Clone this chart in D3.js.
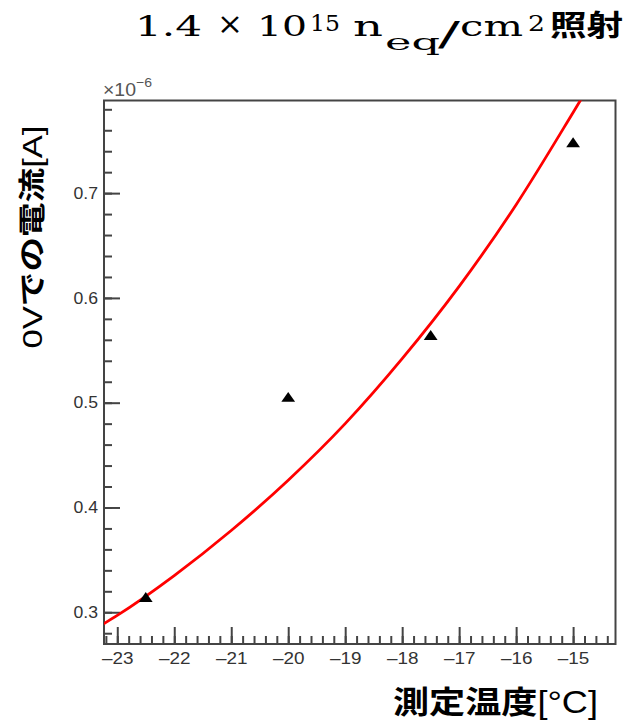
<!DOCTYPE html>
<html>
<head>
<meta charset="utf-8">
<script src="https://cdn.jsdelivr.net/npm/d3@7"></script>
<style>
  body { margin: 0; background: #fff; }
  svg { display: block; }
</style>
</head>
<body>
<div id="chart"></div>
<script>
// measured points (temperature in C, current at 0V in A)
const temps = [-22.5, -20, -17.5, -15];
const currents = [0.313e-6, 0.504e-6, 0.563e-6, 0.747e-6];

// red fit line
const fitTemps = [-23.3, -23, -22, -21, -20, -19, -18, -17, -16, -15, -14.8];
const fitCurrents = [0.287e-6, 0.297e-6, 0.335e-6, 0.378e-6, 0.426e-6, 0.480e-6,
                     0.542e-6, 0.611e-6, 0.689e-6, 0.777e-6, 0.795e-6];

const xMajor = [-23, -22, -21, -20, -19, -18, -17, -16, -15];
const yMajor = [0.3e-6, 0.4e-6, 0.5e-6, 0.6e-6, 0.7e-6];

const W = 628, H = 728;
const frame = { left: 104, right: 615.5, top: 100.5, bottom: 644 };

const svg = d3.select("#chart")
    .append("svg")
    .attr("width", W)
    .attr("height", H);

const xScale = d3.scaleLinear()
    .domain([-23.233, -14.256])
    .range([frame.left, frame.right]);

const yScale = d3.scaleLinear()
    .domain([0.2697e-6, 0.7884e-6])
    .range([frame.bottom, frame.top]);

const axisColor = "#444";
const labelColor = "#333";

// widen text horizontally, the source picture is a bit stretched
function stretch(sel, f) {
    sel.each(function() {
        const w = this.getComputedTextLength();
        if (w > 0) d3.select(this).attr("textLength", w * f).attr("lengthAdjust", "spacingAndGlyphs");
    });
}

// minor ticks every 0.2 C / 0.02e-6 A
const xMinor = d3.range(-23.2, -14.25, 0.2).map(v => +v.toFixed(1));
const yMinor = d3.range(0.28, 0.789, 0.02).map(v => +(v.toFixed(2)) * 1e-6);

// x axis
const gx = svg.append("g")
    .attr("transform", `translate(0,${frame.bottom})`);
gx.append("g")
    .call(d3.axisBottom(xScale).tickValues(xMinor).tickSize(-8).tickFormat(""));
gx.append("g")
    .call(d3.axisBottom(xScale).tickValues(xMajor).tickSize(-17).tickPadding(9)
        .tickFormat(d => "\u2013" + Math.abs(d)));
gx.selectAll(".domain").remove();

// y axis
const gy = svg.append("g")
    .attr("transform", `translate(${frame.left},0)`);
gy.append("g")
    .call(d3.axisLeft(yScale).tickValues(yMinor).tickSize(-8).tickFormat(""));
gy.append("g")
    .call(d3.axisLeft(yScale).tickValues(yMajor).tickSize(-16).tickPadding(6)
        .tickFormat(d => (d / 1e-6).toFixed(1)));
gy.selectAll(".domain").remove();

svg.selectAll(".tick line")
    .attr("stroke", axisColor)
    .attr("stroke-width", 2);
svg.selectAll(".tick text")
    .style("fill", labelColor)
    .style("font-family", "Liberation Sans, Arial, sans-serif")
    .style("font-size", "16px");
stretch(gx.selectAll(".tick text"), 1.18);
stretch(gy.selectAll(".tick text"), 1.1);

// frame
svg.append("rect")
    .attr("x", frame.left)
    .attr("y", frame.top)
    .attr("width", frame.right - frame.left)
    .attr("height", frame.bottom - frame.top)
    .attr("fill", "none")
    .attr("stroke", axisColor)
    .attr("stroke-width", 2);

// exponent label
const expo = svg.append("text")
    .attr("x", frame.left - 1)
    .attr("y", 96)
    .attr("fill", "#555")
    .attr("font-family", "Liberation Sans, Arial, sans-serif")
    .attr("font-size", 18)
    .attr("textLength", 49)
    .attr("lengthAdjust", "spacingAndGlyphs");
expo.append("tspan").text("\u00d710");
expo.append("tspan").attr("dy", -9).attr("font-size", 13).text("\u22126");

// fit curve
svg.append("clipPath").attr("id", "clip")
    .append("rect")
    .attr("x", frame.left)
    .attr("y", frame.top)
    .attr("width", frame.right - frame.left)
    .attr("height", frame.bottom - frame.top);

const line = d3.line()
    .x((d, i) => xScale(fitTemps[i]))
    .y(d => yScale(d))
    .curve(d3.curveMonotoneX);

svg.append("path")
    .datum(fitCurrents)
    .attr("clip-path", "url(#clip)")
    .attr("fill", "none")
    .attr("stroke", "#ff0000")
    .attr("stroke-width", 2.8)
    .attr("d", line);

// data points
svg.selectAll(".pt")
    .data(temps)
    .join("path")
    .attr("class", "pt")
    .attr("transform", (d, i) => `translate(${xScale(d)},${yScale(currents[i])}) scale(1.15,0.95)`)
    .attr("d", d3.symbol(d3.symbolTriangle, 62))
    .attr("fill", "#000");

// title, piece by piece
const serif = "DejaVu Serif, serif";
const cjk = "Noto Sans CJK JP, sans-serif";
const titleParts = [
    { t: "1.4", x: 135, w: 67, y: 36, s: 28, f: serif },
    { t: "\u00d7", x: 217, w: 26, y: 34, s: 30, f: serif },
    { t: "10", x: 257, w: 50, y: 36, s: 28, f: serif },
    { t: "15", x: 310, w: 30, y: 31, s: 23, f: serif },
    { t: "n", x: 353, w: 30, y: 36, s: 28, f: serif },
    { t: "eq", x: 385, w: 55, y: 50, s: 23, f: serif },
    { t: "/", x: 438, w: 22, y: 46, s: 34, f: serif },
    { t: "cm", x: 460, w: 63, y: 36, s: 28, f: serif },
    { t: "2", x: 528, w: 17, y: 31, s: 23, f: serif },
    { t: "照射", x: 550, w: 73, y: 36, s: 29, f: cjk, b: true }
];
svg.append("g").selectAll("text")
    .data(titleParts)
    .join("text")
    .attr("x", d => d.x)
    .attr("y", d => d.y)
    .attr("font-family", d => d.f)
    .attr("font-weight", d => d.b ? "bold" : "normal")
    .attr("font-size", d => d.s)
    .attr("textLength", d => d.w)
    .attr("lengthAdjust", "spacingAndGlyphs")
    .attr("fill", "#000")
    .text(d => d.t);

// y label
const yLabel = svg.append("text")
    .attr("transform", "translate(42,237) rotate(-90)")
    .attr("text-anchor", "middle")
    .attr("fill", "#000")
    .attr("font-family", cjk)
    .attr("font-size", 27)
    .attr("textLength", 223)
    .attr("lengthAdjust", "spacingAndGlyphs");
yLabel.append("tspan").attr("font-family", "Liberation Sans, Arial, sans-serif").text("0V");
yLabel.append("tspan").attr("font-weight", "bold").text("での電流");
yLabel.append("tspan").attr("font-family", "Liberation Sans, Arial, sans-serif").text("[A]");

// x label
const xLabel = svg.append("text")
    .attr("x", 393)
    .attr("y", 713)
    .attr("fill", "#000")
    .attr("font-family", cjk)
    .attr("font-size", 31)
    .attr("textLength", 205)
    .attr("lengthAdjust", "spacingAndGlyphs");
xLabel.append("tspan").attr("font-weight", "bold").text("測定温度");
xLabel.append("tspan").attr("font-family", "Liberation Sans, Arial, sans-serif").text("[\u00b0C]");
</script>
</body>
</html>
